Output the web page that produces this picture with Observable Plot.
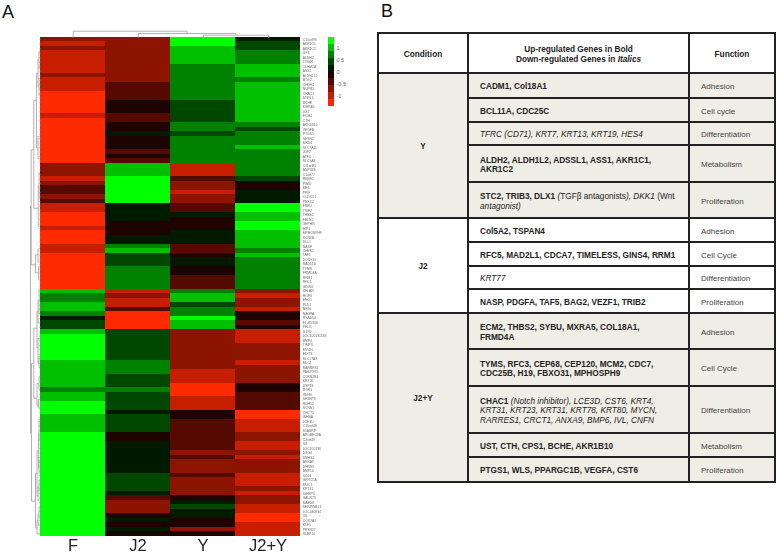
<!DOCTYPE html>
<html><head><meta charset="utf-8">
<script src="https://cdn.jsdelivr.net/npm/d3@7"></script>
<script src="https://cdn.jsdelivr.net/npm/@observablehq/plot@0.6"></script>
<style>
html,body{margin:0;padding:0;background:#fff;width:777px;height:553px;overflow:hidden;font-family:"Liberation Sans",Arial,sans-serif}
#page{position:relative;width:777px;height:553px}
#page svg{position:absolute;left:0;top:0}
.panel{position:absolute;font-size:18px;line-height:18px;color:#111}
table{position:absolute;left:377px;top:32px;border-collapse:collapse;table-layout:fixed;width:397px;font-size:8.25px;line-height:9.7px;color:#222}
td,th{border:2px solid #222;padding:3.5px 0 0 0;overflow:hidden}
th{font-weight:bold;text-align:center}
td.c{font-weight:bold;text-align:center}
td.g{padding-left:11px}
td.f{padding-left:11px;color:#444;font-size:8px}
.s td{background:#efeee6}
</style></head><body><div id="page"></div>
<script>
const columns = ["F","J2","Y","J2+Y"];
const genes = ["C10orf99","AKR1C1","AKR1C2","ILF3","ALDH2","LTB4R","OLFM2A","ASS1","ALDH1L2","BTG2",
"CHDH1","NUPR1","CHAC1","DNPL1","BCHE","KIRREL","UST","ECM2","CTH","AKR1B10",
"VEGFA","PTGS1","SESN2","MXD4","SLC7A11","JDP2","ATF4","SLC1A4","C11orf82","ANP32E",
"C1orf77","RBBS1","PIM3","ME1","PPIF","CCDC51","PRKC2","FRBU","TSIF2","THBS2",
"FBLN1","GEPHN","HIP1","MPHOSPH9","SCN4B","DLL1","NASP","CHEK1","TAF5","DOCK11",
"RAD51D","TYMS","FRMD4A","RRM1","RFC5","GINS4","CFLAR","HOPX","ENO1","PLD1",
"NEBL","NAGPA","RSAD54","FLJ45340","PELI1","IL1R2","LOC100131138","BMP4","TIMP3","MYCN",
"EDIT3","SLC17A3","MLC1","RARRES1","PAK2TPD","CDKN2B1","KRT16","USP18","RGR1","IRGM",
"SFXBP5","RDH12","SCNN1","CRCT1","INHBA","LCE3D","C15orf48","S1ASRP","APOBEC3A","C2orf49",
"IL8","LOC100130","DSG4","SNHG2","ANXA9","DHRS9","BMP10","CD24","GPRC5A","MUC1",
"KRT31","IGFBP3","GALNT5","MAFDK","SERPINB13","LOC440934","IVL","COX7A1","KLF5","PRSS27","SLBP10"];

const valuesF = [-.7,-1,-.7,-1,-1,-1,-1,-1,-.7,-1,
-1,-1,-1.3,-1.3,-1.3,-1.3,-1.3,-1,-1.3,-1.3,
-1.3,-1.3,-1.3,-1.3,-1.3,-1.3,-1.3,-1.3,-.7,-.7,
-.7,-1,-.7,-.4,-.4,-.7,-.4,-1,-1,-1.3,
-1.3,-1.3,-1,-1.3,-1.3,-1.3,-1,-1,-1.3,-1.3,
-1.3,-1.3,-1.3,-1.3,-1.3,-1.3,1,.7,.7,1,
1,.7,.15,.4,.4,1,1.3,1.3,1.3,1.3,
1.3,1.3,1,1,1,1,1,1,.7,1,
1,1.3,1.3,1.3,1,1,1,1,1.3,1.3,
1.3,1.3,1.3,1.3,1.3,1.3,1.3,1.3,1.3,1.3,
1.3,1.3,1.3,1.3,1.3,1.3,1.3,1.3,1.3,1.3,1.3];
const valuesJ2 = [-.7,-.7,-.7,-.7,-.7,-.7,-.7,-.7,-.7,-.7,
-.4,-.4,-.4,-.4,-.15,-.15,-.15,-.4,-.4,-.15,
-.15,.15,-.15,-.15,-.15,-.4,-.15,-.4,1,1,
1,1.3,1.3,1.3,1.3,1.3,1.3,.15,.15,.15,
.15,-.15,-.15,-.15,.15,.15,.7,1,.4,.4,
.4,.7,.7,.7,.7,.7,-1,-.7,-1,-1,
-.4,-1.3,-1.3,-1.3,-1.3,.4,.4,.4,.4,.4,
.4,.4,.7,.7,.7,.4,.4,.4,.7,.4,
.4,.4,.4,.15,.4,.4,.4,.4,-.15,-.15,
.15,.15,.15,.15,.15,.15,.15,.4,.4,.4,
.4,.15,-.4,-.7,-.7,-.7,-.15,.15,-.15,.15,-.15];
const valuesY = [1.3,1.3,1,1,1,1,.7,.7,.7,.7,
.7,.7,.7,.7,.4,.4,.4,.4,.4,.7,
.7,.4,.7,.7,.7,.7,.7,.7,-1,-1,
-1,-.4,-.7,-.7,-1,-.7,-.7,-.4,-.4,.15,
-.15,-.15,-.15,.15,.15,.15,-.4,-.4,-.15,.15,
.15,-.15,-.15,-.4,-.4,-.4,.7,1,1,.4,
.7,.7,1.3,1,1,-.7,-.7,-.7,-.7,-.7,
-.7,-.7,-.7,-.7,-1,-1,-1,-1.3,-1.3,-1.3,
-1,-1,-1,-.15,-.15,-.4,-.4,-.4,-.4,-.4,
-.4,-.4,-.7,-.4,-.7,-.7,-.7,-.4,-.7,-.7,
-.7,-.7,-.15,.15,.4,.15,.15,-.15,-.15,-.7,-.15];
const valuesJ2Y = [.15,.4,.4,.7,.7,.7,1,1,1,.7,
1,1,1,1,1,1,1,1,1,.7,
.4,.7,.7,.7,1,.7,.7,.7,.7,.7,
.7,.4,-.15,-.15,.15,.15,.15,1.3,1.3,1,
1,1.3,1.3,1,1,1,1,.7,1,.7,
.7,.7,.7,.7,.7,.7,-.7,-1,-.7,-.7,
-1,-.15,-.15,-.4,-.15,-1,-1,-1,-.7,-.7,
-.7,-.7,-1,-.7,-.7,-.7,-.7,-.15,-.15,-.4,
-.4,-.4,-.4,-1.3,-1.3,-1,-1,-1,-.7,-.7,
-1,-1,-.7,-1,-.7,-.7,-.7,-1,-1,-1,
-.7,-1,-.7,-.7,-1,-1,-1.3,-1.3,-1,-1,-1];

const keyLevels = [-1.3,-1,-.7,-.4,-.15,.15,.4,.7,1,1.3];
const keyEdges = [-1.45,-1.16,-.87,-.58,-.29,0,.29,.58,.87,1.16,1.45];
const keyColors = ["#ff2a00","#c81e00","#8c1400","#550a00","#1e0400","#001a00","#004800","#008200","#00c000","#00ff00"];
const keyTicks = [-1,-.5,0,.5,1];

// hierarchical merges: [height, position a, height of child a, position b, height of child b]
const columnMerges = [[6.3,.5,0,2.25,4],[4,1.5,0,3,2.3],[2.3,2.5,0,3.5,0]];
const rowMerges = [
[10,22.9,9,73.5,9.3],[9,7.8,5,38.5,6.7],[5,1.8,3.5,14,3.5],
[3.5,.5,1,3.5,2.5],[2.5,2.5,1,5,1.5],[1.5,4,1,6.5,1],
[3.5,9,2.5,19,2],[2.5,8,1,11,1.5],[1.5,10,1,12.5,1],[2,15,1.5,23,1.5],[1.5,14,1,17,1],[1.5,21,1,26,1],
[6.7,30.7,3.5,46.3,3.5],[3.5,29,2,34,1.5],[2,28.5,1,30.5,1],[1.5,32.5,1,35.5,1],
[3.5,41.9,2.5,50,2.5],[2.5,38.5,1.5,44,1],[1.5,37.5,1,40,1],[2.5,47.5,1,52.5,1.5],[1.5,49.5,1,55,1],
[9.3,60.4,5,86,6.7],[5,58.6,2,62.6,2.5],[2,57,1,60,1],[2.5,61,1,64,1],
[6.7,73,2.3,97,4],[2.3,69,1,78,1.5],[1.5,75,1,81,1],
[4,86.4,2.5,103,2.5],[2.5,84,1,89,1],[2.5,100,1.5,106,1.5],[1.5,98,1,102,1],[1.5,104,1,108,1]];

// table B
const tableHeader = ["Condition","Up-regulated Genes in Bold<br>Down-regulated Genes in <i>Italics</i>","Function"];
const tableGroups = [
 {name:"Y",shade:true,rows:[
  ["<b>CADM1, Col18A1</b>","Adhesion"],
  ["<b>BCL11A, CDC25C</b>","Cell cycle"],
  ["<i>TFRC (CD71), KRT7, KRT13, KRT19, HES4</i>","Differentiation"],
  ["<b>ALDH2, ALDH1L2, ADSSL1, ASS1, AKR1C1,<br>AKR1C2</b>","Metabolism"],
  ["<b>STC2, TRIB3, DLX1</b> <i>(</i>TGFβ antagonists<i>), DKK1</i> (Wnt<br><i>antagonist)</i>","Proliferation"]]},
 {name:"J2",shade:false,rows:[
  ["<b>Col5A2, TSPAN4</b>","Adhesion"],
  ["<b>RFC5, MAD2L1, CDCA7, TIMELESS, GINS4, RRM1</b>","Cell Cycle"],
  ["<i>KRT77</i>","Differentiation"],
  ["<b>NASP, PDGFA, TAF5, BAG2, VEZF1, TRIB2</b>","Proliferation"]]},
 {name:"J2+Y",shade:true,rows:[
  ["<b>ECM2, THBS2, SYBU, MXRA5, COL18A1,<br>FRMD4A</b>","Adhesion"],
  ["<b>TYMS, RFC3, CEP68, CEP120, MCM2, CDC7,<br>CDC25B, H19, FBXO31, MPHOSPH9</b>","Cell Cycle"],
  ["<b>CHAC1</b> <i>(Notch inhibitor), LCE3D, CST6, KRT4,<br>KRT31, KRT23, KRT31, KRT78, KRT80, MYCN,<br>RARRES1, CRCT1, ANXA9, BMP6, IVL, CNFN</i>","Differentiation"],
  ["<b>UST, CTH, CPS1, BCHE, AKR1B10</b>","Metabolism"],
  ["<b>PTGS1, WLS, PPARGC1B, VEGFA, CST6</b>","Proliferation"]]}
];
const tableRowLines = [33,73,98,122,145,182,218,242,266,289,313,349,386,433,457,482];
const tableColumnWidths = [90,221,86];

const page = document.getElementById("page");
const font = '"Liberation Sans",Arial,sans-serif';
const colorScale = {type:"threshold",domain:keyEdges.slice(1,-1),range:keyColors};
const series = [valuesF,valuesJ2,valuesY,valuesJ2Y];
const cells = columns.flatMap((c,i)=>genes.map((g,j)=>({col:c,gene:g,v:series[i][j]})));

function mergeSegments(merges){
  return merges.flatMap(([h,a,ha,b,hb])=>[
    {h1:h,p1:a,h2:h,p2:b},{h1:h,p1:a,h2:ha,p2:a},{h1:h,p1:b,h2:hb,p2:b}]);
}

// heatmap
page.append(Plot.plot({
  width:340,height:553,marginLeft:40,marginRight:39.3,marginTop:37,marginBottom:17.3,
  style:{background:"transparent",fontFamily:font,overflow:"visible",filter:"blur(0.35px)"},
  x:{domain:columns,padding:0,label:null},
  y:{domain:genes,padding:0,label:null},
  color:colorScale,
  marks:[
    Plot.cell(cells,{x:"col",y:"gene",fill:"v",shapeRendering:"crispEdges"}),
    Plot.axisY({anchor:"right",tickSize:0,tickPadding:1.5,fontSize:3.4,fill:"#666",label:null}),
    Plot.axisX({anchor:"bottom",tickSize:0,tickPadding:3,fontSize:16.5,fill:"#222",label:null})
  ]
}));

// row dendrogram
page.append(Plot.plot({
  width:41,height:553,marginLeft:26,marginRight:1,marginTop:37,marginBottom:17.3,
  style:{background:"transparent",overflow:"visible"},
  x:{domain:[14,0],axis:null},
  y:{domain:[0,111],axis:null},
  marks:[
    Plot.link(mergeSegments(rowMerges),{x1:"h1",y1:"p1",x2:"h2",y2:"p2",stroke:"#aaa",strokeWidth:.9}),
    Plot.link(genes.map((g,i)=>({p:i+.5})),{x1:()=>1,x2:()=>0,y1:"p",y2:"p",stroke:"#888",strokeWidth:.9})
  ]
}));

// column dendrogram
page.append(Plot.plot({
  width:340,height:37,marginLeft:40,marginRight:39.3,marginTop:30,marginBottom:0,
  style:{background:"transparent",overflow:"visible"},
  x:{domain:[0,4],axis:null},
  y:{domain:[0,7],axis:null},
  marks:[
    Plot.link(mergeSegments(columnMerges),{x1:"p1",y1:"h1",x2:"p2",y2:"h2",stroke:"#aaa",strokeWidth:.9})
  ]
}));

// colour key
const keySvg = Plot.plot({
  width:24,height:69,marginLeft:0,marginRight:18,marginTop:0,marginBottom:0,
  style:{background:"transparent",fontFamily:font,overflow:"visible"},
  x:{domain:[0,1],axis:null},
  y:{domain:[-1.45,1.45],label:null},
  color:colorScale,
  marks:[
    Plot.rect(keyLevels.map((v,i)=>({v,y1:keyEdges[i],y2:keyEdges[i+1]})),{x1:()=>0,x2:()=>1,y1:"y1",y2:"y2",fill:"v",shapeRendering:"crispEdges"}),
    Plot.axisY(keyTicks,{anchor:"right",tickSize:0,tickPadding:2,fontSize:5.5,fill:"#666",label:null,tickFormat:d=>String(d)})
  ]
});
keySvg.style.left="328px"; keySvg.style.top="37px";
page.append(keySvg);

// panel letters
[["A",2,3],["B",381,2]].forEach(([t,x,y])=>{
  const d=document.createElement("div");d.className="panel";d.textContent=t;
  d.style.left=x+"px";d.style.top=y+"px";page.append(d);
});

// table B
const table=document.createElement("table");
const cg=document.createElement("colgroup");
tableColumnWidths.forEach(w=>{const c=document.createElement("col");c.style.width=w+"px";cg.append(c);});
table.append(cg);
let line=0;
const rowH=()=>{const h=tableRowLines[line+1]-tableRowLines[line];line++;return h+"px";};
const hr=document.createElement("tr");hr.style.height=rowH();
tableHeader.forEach(t=>{const th=document.createElement("th");th.innerHTML=t;hr.append(th);});
table.append(hr);
tableGroups.forEach(g=>{
  g.rows.forEach((r,i)=>{
    const tr=document.createElement("tr");tr.style.height=rowH();
    if(g.shade)tr.className="s";
    if(i===0){const c=document.createElement("td");c.className="c";c.rowSpan=g.rows.length;c.textContent=g.name;tr.append(c);}
    const a=document.createElement("td");a.className="g";a.innerHTML=r[0];tr.append(a);
    const b=document.createElement("td");b.className="f";b.textContent=r[1];tr.append(b);
    table.append(tr);
  });
});
page.append(table);
</script></body></html>
